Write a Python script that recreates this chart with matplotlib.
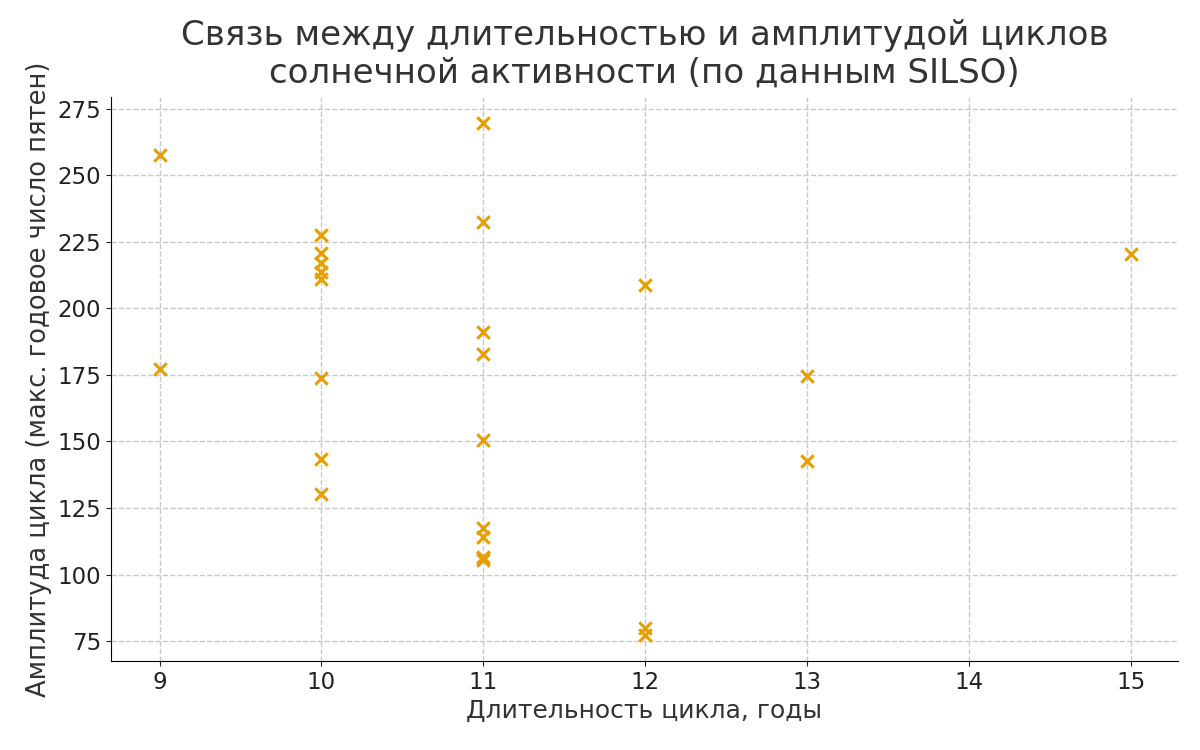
import matplotlib
matplotlib.use("Agg")
import matplotlib.pyplot as plt

# cycle length (years) vs. cycle amplitude (max yearly sunspot number)
length_years = [9, 9,
                10, 10, 10, 10, 10, 10, 10, 10,
                11, 11, 11, 11, 11, 11, 11, 11, 11, 11,
                12, 12, 12,
                13, 13,
                15]
amplitude = [257.7, 177.3,
             227.6, 220.9, 217.0, 213.8, 211.1, 173.9, 143.4, 130.2,
             269.7, 232.5, 191.2, 182.9, 150.6, 117.5, 114.1, 106.2, 105.6, 106.4,
             208.8, 79.9, 77.3,
             174.6, 142.7,
             220.5]

plt.rcParams.update({"font.family": "DejaVu Sans", "font.size": 16})

fig = plt.figure(figsize=(12, 7.5), dpi=100)
ax = fig.add_axes([0.0925, 0.1187, 0.8892, 0.752])

ax.scatter(length_years, amplitude, marker="x", s=80, linewidths=2.2,
           color="#E69F00", zorder=3)

ax.set_xlim(8.70, 15.29)
ax.set_ylim(67.5, 279.5)
ax.set_xticks(range(9, 16))
ax.set_yticks(range(75, 276, 25))
ax.grid(True, linestyle="--", color="#c8c8c8", linewidth=1)
ax.set_axisbelow(True)
for s in ("top", "right"):
    ax.spines[s].set_visible(False)
ax.tick_params(labelsize=16.5, colors="#222222")

ax.set_xlabel("Длительность цикла, годы", fontsize=18, color="#333333")
ax.set_ylabel("Амплитуда цикла (макс. годовое число пятен)", fontsize=18.5,
              color="#333333")
fig.suptitle("Связь между длительностью и амплитудой циклов\n"
             "солнечной активности (по данным SILSO)",
             fontsize=24.5, color="#333333", x=0.537, y=0.975)

fig.savefig("out.png", dpi=100)
